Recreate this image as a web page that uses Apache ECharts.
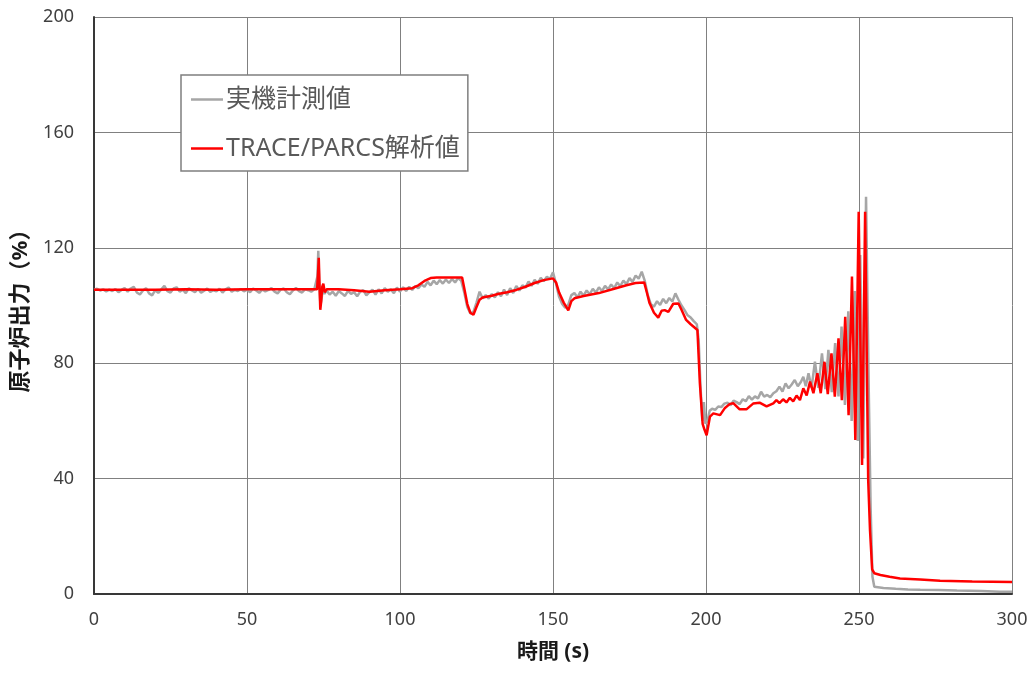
<!DOCTYPE html>
<html><head><meta charset="utf-8">
<script src="https://cdn.jsdelivr.net/npm/echarts@6/dist/echarts.min.js"></script>
<style>html,body{margin:0;padding:0;background:#fff}#c{width:1032px;height:675px}</style>
</head><body><div id="c"></div>
<script>
const seriesNames = ['実機計測値', 'TRACE/PARCS解析値'];
const xAxisTitle = '時間 (s)';
const yAxisTitle = '原子炉出力（%）';

// measured values: 0..72 s at 1 s step
const measuredEarly = [105.5,105.8,105.2,105.6,104.9,105.5,105.0,105.7,104.6,105.4,106.0,104.8,105.9,106.5,104.5,103.8,105.2,106.0,104.2,103.5,105.3,104.4,105.6,106.8,105.0,104.5,105.9,106.3,104.8,105.5,104.3,106.0,105.2,104.6,105.8,104.4,105.1,105.9,104.7,105.3,104.9,105.8,104.5,105.6,106.2,104.8,105.4,105.0,105.7,104.9,105.5,104.6,105.9,105.2,104.4,105.6,104.9,105.4,106.0,104.8,104.2,105.5,105.9,104.6,103.9,105.2,106.1,105.0,104.5,105.7,105.3,104.8,105.6];
// measured values after 72 s: [time, value]
const measuredLate = [[72.5,105.5],[73,110],[73.3,119],[73.6,108],[74,100],[74.4,102.5],[74.8,106.5],[75.3,104],[76,105.2],[77,103.8],[78,104.8],[79,103.4],[80,105.0],[81,104.2],[82,103.3],[83,105.1],[84,104.0],[85,104.6],[86,103.2],[87,104.8],[88,105.3],[89,103.5],[90,104.6],[91,105.5],[92,103.8],[93,105.6],[94,104.2],[95,106.0],[96,104.8],[97,105.6],[98,104.3],[99,106.2],[100,104.8],[101,106.3],[102,105.0],[103,106.5],[104,105.4],[105,106.8],[106,106.0],[107,107.3],[108,106.5],[109,108.2],[110,107.0],[111,108.6],[112,107.4],[113,108.8],[114,107.6],[115,109.0],[116,107.8],[117,109.2],[118,108.0],[119,109.5],[120,108.6],[121,104.5],[122,99.5],[123,97.2],[124,97.8],[125,101],[126,104.8],[127,102.5],[128,103.6],[129,102.4],[130,104.0],[131,102.8],[132,104.6],[133,103.2],[134,105.5],[135,103.6],[136,106.0],[137,104.3],[138,106.8],[139,105.2],[140,107.0],[141,106.2],[142,108.3],[143,106.8],[144,108.9],[145,107.5],[146,109.6],[147,108.4],[148,110.0],[149,109.2],[150,111.5],[151,107.5],[152,103],[153,100.5],[154,99.2],[155,100.3],[156,103.6],[157,104.3],[158,102.8],[159,104.8],[160,103.4],[161,105.2],[162,103.9],[163,105.8],[164,104.5],[165,106.3],[166,105.0],[167,106.8],[168,105.6],[169,107.3],[170,106.0],[171,108.0],[172,106.7],[173,108.6],[174,107.4],[175,109.5],[176,108.2],[177,110.4],[178,109.3],[179,111.7],[180,108.5],[181,103.5],[182,100.4],[183,99.6],[184,101.5],[185,100.2],[186,102.3],[187,100.8],[188,102.6],[189,101.4],[190,104.2],[191,102.0],[192,100.0],[193,98.4],[194,96.6],[195,95.8],[196,94.6],[197,93.5],[197.6,88],[198.2,72],[198.8,60],[199.3,66.5],[199.8,59],[200.5,60],[201.2,63.5],[202,64.2],[203,63.8],[204,65],[205,64.8],[206,66],[207,66.3],[208,65.4],[209,67],[210,66.5],[211,65.8],[212,67.5],[213,66.8],[214,68.6],[215,67.4],[216,68.5],[217,67.8],[218,70.1],[219,68.4],[220,69.0],[221,68.2],[222,69.6],[223,70.3],[224,71.9],[225,70.2],[226,73],[227,71.3],[228,72.6],[229,74.2],[230,72.0],[231,73.5],[231.8,75.3],[232.6,72.0],[233.5,76.5],[234.5,71.5],[235.6,80.5],[236.7,71.5],[237.9,83.4],[239.0,71],[240.0,84.6],[241.1,70],[242.2,87],[243.3,68.5],[244.3,92.7],[245.4,65.5],[246.5,98],[247.6,60],[248.6,105],[249.6,53],[250.4,117.5],[251.4,47],[252.3,137.7],[253.2,70],[253.8,30],[254.4,6],[255,2.5],[258,2.1],[262,1.8],[266,1.6],[270,1.5],[276,1.4],[282,1.2],[290,1.0],[296,0.8],[300,0.8]];

// TRACE/PARCS analysis: [time, value]
const analysis = [[0,105.5],[10,105.5],[20,105.5],[30,105.6],[40,105.5],[50,105.6],[60,105.6],[70,105.6],[72.9,105.6],[73.2,111],[73.45,116.5],[73.7,107],[73.95,98.5],[74.25,101.5],[74.6,106.5],[74.95,107.6],[75.4,104.6],[76,105.6],[80,105.6],[85,105.3],[90,104.8],[95,105.3],[100,105.6],[104,106],[106,107],[108,108.5],[110,109.5],[112,109.7],[116,109.7],[120.3,109.7],[121,106],[122,100.5],[123,97.5],[124,96.8],[125,99.5],[126,102],[127,102.8],[130,103.4],[132,104],[135,104.6],[138,105.4],[141,106.5],[144,107.8],[147,108.8],[150,109.4],[151,108],[152,104.5],[153.5,101],[155,98.3],[156,101.5],[157,102.5],[160,103.3],[165,104.3],[170,105.8],[174,107],[177,107.8],[179.8,108],[180.8,104],[181.5,101],[183,97.5],[184.4,95.8],[185.5,98.2],[186.5,98.4],[187.7,97.8],[189.3,100.6],[191,100.7],[192,98.5],[193.5,95],[195,93.5],[197.2,91.5],[198,73],[198.9,59],[199.5,57],[200.2,55],[201.3,61.5],[202.4,62.6],[204.6,62],[206.2,64.5],[207.8,65.9],[209,66.1],[211,64],[213.2,64],[215.4,66],[217.5,66.3],[219.8,65],[222,66.1],[223,67.2],[224,66.2],[225.2,67.5],[226.3,66.4],[227.4,68],[228.5,66.8],[229.6,68.8],[230.7,67.2],[231.8,71.3],[232.9,68.8],[234.0,73.6],[235.1,69.6],[236.4,76.5],[237.5,69.6],[238.7,80.5],[239.8,69.3],[241.0,83.4],[242.1,68.4],[243.3,88.6],[244.4,67.2],[245.5,96.1],[246.6,62],[247.7,110],[248.8,53.4],[249.9,132.5],[251.0,44.7],[252.0,132.5],[253.0,39.5],[253.6,22],[254.3,8.5],[255,7.2],[257,6.6],[260,6],[263.4,5.4],[270,5],[276.5,4.6],[287,4.3],[300,4.2]];

const measured = measuredEarly.map((v, i) => [i, v]).concat(measuredLate);

const FONT = "'Noto Sans','Noto Sans CJK JP',sans-serif";
const chart = echarts.init(document.getElementById('c'), null, {renderer: 'canvas'});
chart.setOption({
  animation: false,
  backgroundColor: '#fff',
  grid: {left: 94, right: 20, top: 17, bottom: 81, containLabel: false},
  legend: {
    orient: 'vertical', left: 181, top: 75,
    padding: [12, 8, 10, 10], itemGap: 24,
    backgroundColor: '#fff', borderColor: '#7f7f7f', borderWidth: 1.5,
    icon: 'rect', itemWidth: 32, itemHeight: 2.5,
    textStyle: {fontFamily: FONT, fontSize: 25, color: '#595959', padding: [0, 0, 0, -2]},
    data: seriesNames
  },
  xAxis: {
    type: 'value', min: 0, max: 300, interval: 50,
    name: xAxisTitle, nameLocation: 'middle', nameGap: 48,
    nameTextStyle: {fontFamily: FONT, fontSize: 21, fontWeight: 'bold', color: '#1a1a1a'},
    axisLine: {show: true, onZero: false, lineStyle: {color: '#383838', width: 2}},
    axisTick: {show: false},
    axisLabel: {fontFamily: FONT, fontSize: 18, color: '#404040', margin: 17},
    splitLine: {show: true, lineStyle: {color: '#808080', width: 1}}
  },
  yAxis: {
    type: 'value', min: 0, max: 200, interval: 40,
    name: yAxisTitle, nameLocation: 'middle', nameGap: 60, nameRotate: 90,
    nameTextStyle: {fontFamily: FONT, fontSize: 22, fontWeight: 'bold', color: '#1a1a1a'},
    axisLine: {show: true, lineStyle: {color: '#383838', width: 2}},
    axisTick: {show: false},
    axisLabel: {fontFamily: FONT, fontSize: 18, color: '#404040', margin: 20},
    splitLine: {show: true, lineStyle: {color: '#808080', width: 1}}
  },
  series: [
    {name: seriesNames[0], type: 'line', data: measured, showSymbol: false, symbol: 'none',
     lineStyle: {color: '#a6a6a6', width: 2.5}, itemStyle: {color: '#a6a6a6'}, z: 2},
    {name: seriesNames[1], type: 'line', data: analysis, showSymbol: false, symbol: 'none',
     lineStyle: {color: '#ff0000', width: 2.5}, itemStyle: {color: '#ff0000'}, z: 3}
  ]
});
</script></body></html>
